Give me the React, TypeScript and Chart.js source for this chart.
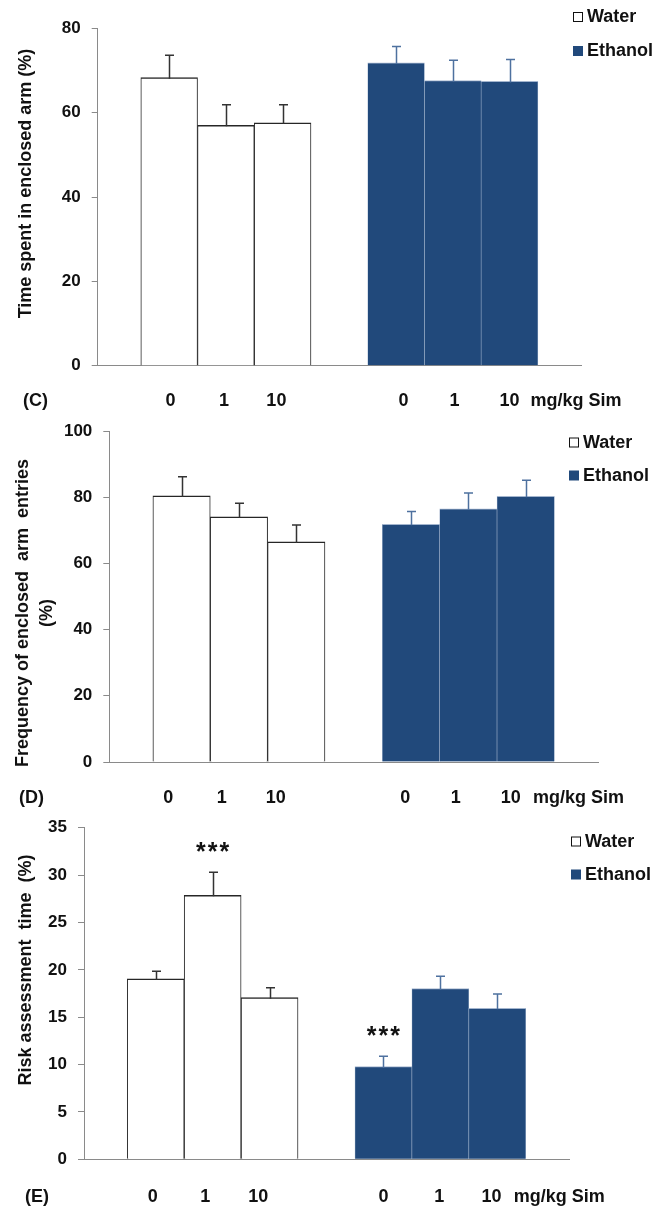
import React, { useEffect, useRef } from "react";
import { Chart, registerables } from "chart.js";

Chart.register(...registerables);

// ---------------- data ----------------
const groupNames = ["Water", "Ethanol"];
const doseLabels = ["0", "1", "10", "0", "1", "10"];
const unitLabel = "mg/kg Sim";
const waterSlots = [0, 1, 2];
const ethanolSlots = [4, 5, 6];

// (C) time spent in enclosed arm
const timeTitle = ["Time spent in enclosed arm (%)"];
const timeTicks = [0, 20, 40, 60, 80];
const timeWater = [68.3, 57.0, 57.6];
const timeWaterSem = [5.3, 4.9, 4.3];
const timeEthanol = [71.8, 67.6, 67.4];
const timeEthanolSem = [3.9, 4.8, 5.2];

// (D) frequency of enclosed arm entries
const freqTitle = ["Frequency of enclosed  arm  entries", "(%)"];
const freqTicks = [0, 20, 40, 60, 80, 100];
const freqWater = [80.4, 74.1, 66.5];
const freqWaterSem = [5.8, 4.1, 5.1];
const freqEthanol = [71.8, 76.5, 80.3];
const freqEthanolSem = [3.9, 4.8, 4.8];

// (E) risk assessment time
const riskTitle = ["Risk assessment  time  (%)"];
const riskTicks = [0, 5, 10, 15, 20, 25, 30, 35];
const riskWater = [19.06, 27.86, 17.06];
const riskWaterSem = [0.78, 2.43, 1.05];
const riskEthanol = [9.78, 18.01, 15.93];
const riskEthanolSem = [1.09, 1.3, 1.52];
const riskWaterMarks = ["", "***", ""];
const riskEthanolMarks = ["***", "", ""];

// ---------------- styles / layout ----------------
const W = 664;
const FONT = '"Liberation Sans", Arial, Helvetica, sans-serif';
const TEXT = "#111111";
const AXIS = "#8a8a8a";
const WATER_FILL = "#ffffff";
const WATER_EDGE = "#262626";
const ETH_FILL = "#21497B";
const ETH_EDGE = "#A3B5CE";
const WATER_ERR = "#333333";
const ETH_ERR = "#4E719F";
const X_MIN = -1.26;
const X_MAX = 7.26;

type PanelCfg = {
  id: string;
  top: number;
  height: number;
  plotTop: number;
  plotBottom: number;
  plotLeft: number;
  plotRight: number;
  yTicks: number[];
  title: string[];
  titleX: number;
  titleY: number;
  titleLine: number;
  water: number[];
  waterSem: number[];
  ethanol: number[];
  ethanolSem: number[];
  waterMarks: string[];
  ethanolMarks: string[];
  labelSlots: number[];
  labelGap: number;
  panelLabelX: number;
  legendX: number;
  legendY: number[];
};

const panels: PanelCfg[] = [
  {
    id: "(C)", top: 0, height: 418, plotTop: 28.3, plotBottom: 365.7, plotLeft: 97.7, plotRight: 581,
    yTicks: timeTicks, title: timeTitle, titleX: 26, titleY: 183.5, titleLine: 24,
    water: timeWater, waterSem: timeWaterSem, ethanol: timeEthanol, ethanolSem: timeEthanolSem,
    waterMarks: ["", "", ""], ethanolMarks: ["", "", ""],
    labelSlots: [0.025, 0.965, 1.89, 4.13, 5.03, 6.0, 7.17], labelGap: 35.5,
    panelLabelX: 23, legendX: 573, legendY: [17, 51],
  },
  {
    id: "(D)", top: 404, height: 414, plotTop: 27, plotBottom: 358, plotLeft: 109.3, plotRight: 598,
    yTicks: freqTicks, title: freqTitle, titleX: 23.3, titleY: 209, titleLine: 23.5,
    water: freqWater, waterSem: freqWaterSem, ethanol: freqEthanol, ethanolSem: freqEthanolSem,
    waterMarks: ["", "", ""], ethanolMarks: ["", "", ""],
    labelSlots: [-0.23, 0.7, 1.64, 3.9, 4.78, 5.74, 6.92], labelGap: 36,
    panelLabelX: 19, legendX: 569, legendY: [38.5, 71.5],
  },
  {
    id: "(E)", top: 804, height: 402, plotTop: 23.7, plotBottom: 355.3, plotLeft: 84, plotRight: 569,
    yTicks: riskTicks, title: riskTitle, titleX: 26, titleY: 166, titleLine: 24,
    water: riskWater, waterSem: riskWaterSem, ethanol: riskEthanol, ethanolSem: riskEthanolSem,
    waterMarks: riskWaterMarks, ethanolMarks: riskEthanolMarks,
    labelSlots: [-0.05, 0.87, 1.8, 4.0, 4.98, 5.9, 7.09], labelGap: 37.5,
    panelLabelX: 25, legendX: 571, legendY: [37.5, 70.5],
  },
];

const font = (size: number) => `bold ${size}px ${FONT}`;

// ---------------- plugins ----------------
const errorBarPlugin = {
  id: "errorBars",
  afterDatasetsDraw(chart: any, _args: any, opts: any) {
    const ctx = chart.ctx;
    const yScale = chart.scales.y;
    chart.data.datasets.forEach((ds: any, di: number) => {
      const meta = chart.getDatasetMeta(di);
      const sems: number[] = opts.sems[di];
      const marks: string[] = opts.marks[di];
      meta.data.forEach((bar: any, i: number) => {
        const value = ds.data[i].y;
        const topPx = yScale.getPixelForValue(value + sems[i]);
        const x = Math.round(bar.x) + 0.5;
        ctx.save();
        ctx.strokeStyle = opts.colors[di];
        ctx.lineWidth = 1.5;
        ctx.beginPath();
        ctx.moveTo(x, bar.y + 1);
        ctx.lineTo(x, topPx);
        ctx.moveTo(x - 4.5, topPx);
        ctx.lineTo(x + 4.5, topPx);
        ctx.stroke();
        const mark = marks[i];
        if (mark) {
          ctx.font = font(25);
          ctx.fillStyle = TEXT;
          ctx.textAlign = "center";
          ctx.textBaseline = "alphabetic";
          const m = ctx.measureText("*");
          const center = topPx - 25.5;
          const base = center + (m.actualBoundingBoxAscent - m.actualBoundingBoxDescent) / 2;
          const n = mark.length;
          for (let k = 0; k < n; k++) {
            ctx.fillText(mark[k], bar.x + (k - (n - 1) / 2) * 11.8, base);
          }
        }
        ctx.restore();
      });
    });
  },
};

const boxLegendPlugin = {
  id: "boxLegend",
  afterDraw(chart: any, _args: any, opts: any) {
    const ctx = chart.ctx;
    ctx.save();
    chart.data.datasets.forEach((ds: any, di: number) => {
      const y = opts.rows[di];
      const x = opts.x;
      ctx.fillStyle = ds.backgroundColor;
      ctx.fillRect(x, y - 5, 10, 10);
      if (di === 0) {
        ctx.strokeStyle = "#111";
        ctx.lineWidth = 1;
        ctx.strokeRect(x + 0.5, y - 4.5, 9, 9);
      }
      ctx.font = font(18);
      ctx.fillStyle = TEXT;
      ctx.textAlign = "left";
      ctx.textBaseline = "middle";
      ctx.fillText(ds.label, x + 14, y + 0.5);
    });
    ctx.restore();
  },
};

const notesPlugin = {
  id: "panelNotes",
  afterDraw(chart: any, _args: any, opts: any) {
    const ctx = chart.ctx;
    ctx.save();
    ctx.fillStyle = TEXT;
    // panel letter, on the dose-label row
    ctx.font = font(18);
    ctx.textAlign = "left";
    ctx.textBaseline = "middle";
    ctx.fillText(opts.panel, opts.panelX, chart.chartArea.bottom + opts.labelGap);
    // rotated y-axis title
    ctx.translate(opts.titleX, opts.titleY);
    ctx.rotate(-Math.PI / 2);
    ctx.textAlign = "center";
    ctx.font = font(18);
    opts.title.forEach((line: string, i: number) => {
      ctx.fillText(line, 0, i * opts.titleLine);
    });
    ctx.restore();
  },
};

// ---------------- chart ----------------
function buildConfig(cfg: PanelCfg): any {
  const tickLabels = [...doseLabels, unitLabel];
  const yMax = cfg.yTicks[cfg.yTicks.length - 1];
  return {
    type: "bar",
    data: {
      datasets: [
        {
          label: groupNames[0],
          xAxisID: "x",
          yAxisID: "y",
          data: waterSlots.map((x, i) => ({ x, y: cfg.water[i] })),
          backgroundColor: WATER_FILL,
          borderColor: WATER_EDGE,
          borderWidth: { top: 1.5, left: 1, right: 1, bottom: 0 },
          grouped: false,
          barPercentage: 1,
          categoryPercentage: 1,
        },
        {
          label: groupNames[1],
          xAxisID: "x",
          yAxisID: "y",
          data: ethanolSlots.map((x, i) => ({ x, y: cfg.ethanol[i] })),
          backgroundColor: ETH_FILL,
          borderColor: ETH_EDGE,
          borderWidth: { top: 1, left: 0.6, right: 0.6, bottom: 0 },
          grouped: false,
          barPercentage: 1,
          categoryPercentage: 1,
        },
      ],
    },
    options: {
      animation: false,
      responsive: false,
      maintainAspectRatio: false,
      events: [],
      layout: { padding: { top: cfg.plotTop, right: W - cfg.plotRight, bottom: 0, left: 0 } },
      plugins: {
        legend: { display: false },
        tooltip: { enabled: false },
        title: { display: false },
        errorBars: {
          sems: [cfg.waterSem, cfg.ethanolSem],
          marks: [cfg.waterMarks, cfg.ethanolMarks],
          colors: [WATER_ERR, ETH_ERR],
        },
        boxLegend: { x: cfg.legendX, rows: cfg.legendY },
        panelNotes: {
          panel: cfg.id,
          panelX: cfg.panelLabelX,
          labelGap: cfg.labelGap,
          title: cfg.title,
          titleX: cfg.titleX,
          titleY: cfg.titleY,
          titleLine: cfg.titleLine,
        },
      },
      scales: {
        x: {
          type: "linear",
          position: "bottom",
          weight: 0,
          min: X_MIN,
          max: X_MAX,
          offset: false,
          afterBuildTicks: (s: any) => {
            s.ticks = [...waterSlots, ...ethanolSlots].map((v) => ({ value: v }));
          },
          afterFit: (s: any) => {
            s.height = 0;
          },
          grid: { display: false, drawTicks: false },
          border: { display: true, color: AXIS, width: 1 },
          ticks: { display: false },
        },
        xDose: {
          type: "linear",
          axis: "x",
          position: "bottom",
          weight: 1,
          min: X_MIN,
          max: X_MAX,
          offset: false,
          afterBuildTicks: (s: any) => {
            s.ticks = cfg.labelSlots.map((v) => ({ value: v }));
          },
          afterFit: (s: any) => {
            s.height = cfg.height - cfg.plotBottom;
          },
          grid: { display: false, drawTicks: false },
          border: { display: false },
          ticks: {
            autoSkip: false,
            maxRotation: 0,
            minRotation: 0,
            padding: cfg.labelGap - 10.8,
            color: TEXT,
            font: { family: FONT, size: 18, weight: "bold" },
            callback: (_v: any, i: number) => tickLabels[i],
          },
        },
        y: {
          type: "linear",
          position: "left",
          min: 0,
          max: yMax,
          afterBuildTicks: (s: any) => {
            s.ticks = cfg.yTicks.map((v) => ({ value: v }));
          },
          afterFit: (s: any) => {
            s.width = cfg.plotLeft;
          },
          grid: { display: true, drawOnChartArea: false, drawTicks: true, tickLength: 6, color: AXIS, lineWidth: 1 },
          border: { display: true, color: AXIS, width: 1 },
          ticks: {
            padding: 11,
            color: TEXT,
            font: { family: FONT, size: 17, weight: "bold" },
            callback: (_v: any, i: number) => String(cfg.yTicks[i]),
          },
        },
      },
    },
    plugins: [errorBarPlugin, boxLegendPlugin, notesPlugin],
  };
}

function Panel({ cfg }: { cfg: PanelCfg }) {
  const ref = useRef<HTMLCanvasElement>(null);
  useEffect(() => {
    if (!ref.current) return;
    const chart = new Chart(ref.current, buildConfig(cfg));
    return () => chart.destroy();
  }, [cfg]);
  return (
    <canvas
      ref={ref}
      width={W}
      height={cfg.height}
      style={{ position: "absolute", left: 0, top: cfg.top, width: W, height: cfg.height, display: "block" }}
    />
  );
}

export default function App() {
  return (
    <div style={{ position: "absolute", left: 0, top: 0, width: W, height: 1206, background: "#ffffff", overflow: "hidden" }}>
      {panels.map((p) => (
        <Panel key={p.id} cfg={p} />
      ))}
    </div>
  );
}
